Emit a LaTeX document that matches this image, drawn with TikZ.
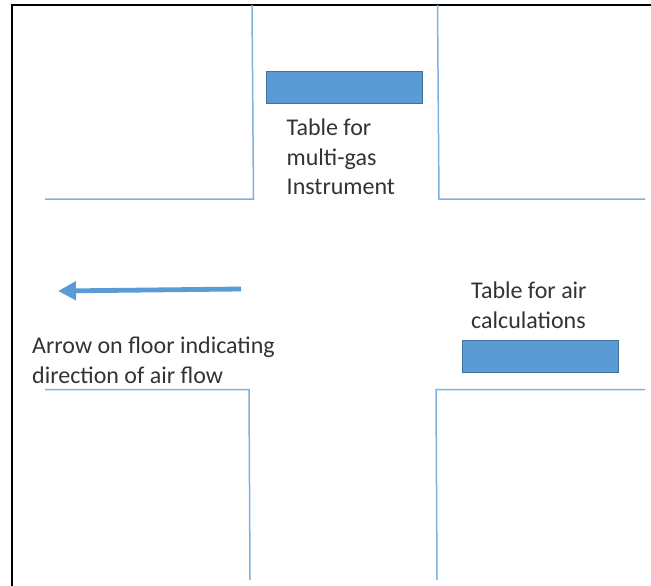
\documentclass[tikz,border=0pt]{standalone}
\usepackage{fontspec}
\setmainfont{Carlito}
\usetikzlibrary{arrows.meta}
\definecolor{tablefill}{HTML}{5B9BD5}
\definecolor{tableedge}{HTML}{41719C}
\definecolor{wallcol}{HTML}{7FB0E0}
\tikzset{
  x=1pt,y=-1pt,
  wall/.style={draw=wallcol,line width=1.5pt},
  tablebox/.style={draw=tableedge,fill=tablefill,line width=0.7pt,minimum width=155.5pt,minimum height=32pt,inner sep=0pt,outer sep=0pt},
  lab/.style={anchor=north west,inner sep=0pt,align=left,text=black!80,font=\fontsize{24}{29.5}\selectfont},
  flow/.style={draw=tablefill,line width=4.8pt,-{Triangle[length=18pt,width=18pt]}},
  frameline/.style={draw=black,line width=1.4pt}
}
\begin{document}
\begin{tikzpicture}
\useasboundingbox (0,0) rectangle (651,586);
\fill[white] (0,0) rectangle (651,586);
% frame
\coordinate (fa) at (12,586);
\coordinate (fb) at (12,5);
\coordinate (fc) at (651,5);
\draw[frameline] (fa) -- (fb) -- (fc);
% walls
\coordinate (tlA) at (252,5);
\coordinate (tlB) at (253.5,199);
\coordinate (tlC) at (45,199);
\coordinate (trA) at (437.5,5);
\coordinate (trB) at (439,199);
\coordinate (trC) at (645,199);
\coordinate (blA) at (45,389.5);
\coordinate (blB) at (249,389.5);
\coordinate (blC) at (250,580);
\coordinate (brA) at (645,389.5);
\coordinate (brB) at (436,389.5);
\coordinate (brC) at (437,580);
\draw[wall] (tlA) -- (tlB) -- (tlC);
\draw[wall] (trA) -- (trB) -- (trC);
\draw[wall] (blA) -- (blB) -- (blC);
\draw[wall] (brA) -- (brB) -- (brC);
% tables
\node[tablebox] (t1) at (344.3,87) {};
\node[tablebox] (t2) at (540.5,356) {};
% arrow
\coordinate (arS) at (241,289);
\coordinate (arE) at (58,291);
\draw[flow] (arS) -- (arE);
% labels
\node[lab] (l1) at (286.5,118.7) {Table for\\multi-gas\\Instrument};
\node[lab] (l2) at (471,282) {Table for air\\calculations};
\node[lab] (l3) at (32,337) {Arrow on floor indicating\\direction of air flow};
\end{tikzpicture}
\end{document}
